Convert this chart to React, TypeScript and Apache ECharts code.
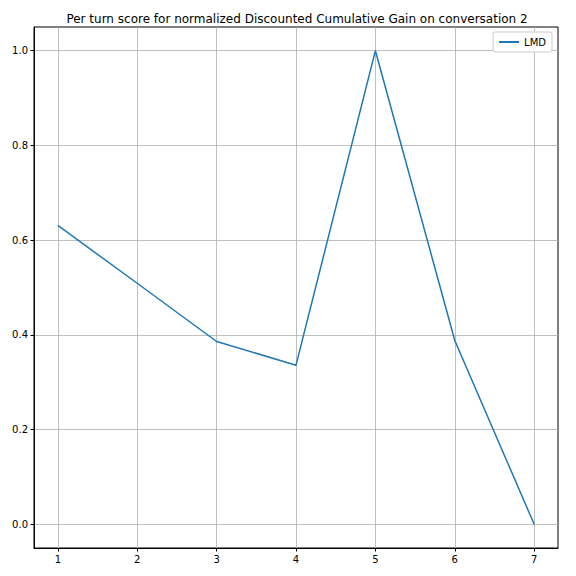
import React, { useEffect, useRef } from "react";
import * as echarts from "echarts";

const turns = [1, 2, 3, 4, 5, 6, 7];
const lmdScores = [0.631, 0.509, 0.386, 0.336, 1.0, 0.388, 0.0];
const xTicks = [1, 2, 3, 4, 5, 6, 7];
const yTicks = [0, 0.2, 0.4, 0.6, 0.8, 1.0];
const titleText = "Per turn score for normalized Discounted Cumulative Gain on conversation 2";
const seriesName = "LMD";

export default function App() {
  const ref = useRef<HTMLDivElement>(null);
  useEffect(() => {
    if (!ref.current) return;
    const chart = echarts.init(ref.current, undefined, { renderer: "svg" });
    const font = "DejaVu Sans";
    chart.setOption({
      animation: false,
      backgroundColor: "#ffffff",
      textStyle: { fontFamily: font },
      title: {
        text: titleText,
        left: 292,
        top: 8,
        textAlign: "center",
        textStyle: { fontFamily: font, fontSize: 12, fontWeight: "normal", color: "#000" },
      },
      legend: {
        right: 24,
        top: 32,
        orient: "vertical",
        itemWidth: 20,
        itemHeight: 2,
        icon: "rect",
        itemGap: 4,
        padding: [5, 6, 5, 6],
        borderColor: "#cccccc",
        borderWidth: 1,
        borderRadius: 2,
        backgroundColor: "#ffffff",
        textStyle: { fontFamily: font, fontSize: 10, color: "#000" },
        data: [seriesName],
      },
      grid: {
        left: 34,
        right: 18,
        top: 27,
        bottom: 28,
        show: true,
        borderColor: "#000",
        borderWidth: 1,
        containLabel: false,
      },
      xAxis: {
        type: "value",
        min: 0.7,
        max: 7.3,
        axisLine: { show: true, onZero: false, lineStyle: { color: "#000", width: 1 } },
        axisTick: { show: true, customValues: xTicks, length: 3.5, lineStyle: { color: "#000" } },
        axisLabel: {
          customValues: xTicks,
          color: "#000",
          fontSize: 10,
          fontFamily: font,
          margin: 6,
          formatter: (v: number) => String(v),
        },
        splitLine: { show: true, lineStyle: { color: "#b0b0b0", width: 0.8 } },
      },
      yAxis: {
        type: "value",
        min: -0.05,
        max: 1.05,
        axisLine: { show: true, onZero: false, lineStyle: { color: "#000", width: 1 } },
        axisTick: { show: true, customValues: yTicks, length: 3.5, lineStyle: { color: "#000" } },
        axisLabel: {
          customValues: yTicks,
          color: "#000",
          fontSize: 10,
          fontFamily: font,
          margin: 6,
          formatter: (v: number) => v.toFixed(1),
        },
        splitLine: { show: true, lineStyle: { color: "#b0b0b0", width: 0.8 } },
      },
      series: [
        {
          name: seriesName,
          type: "line",
          data: turns.map((t, i) => [t, lmdScores[i]]),
          showSymbol: false,
          symbol: "none",
          lineStyle: { color: "#1f77b4", width: 1.5 },
          itemStyle: { color: "#1f77b4" },
        },
      ],
    });
    return () => chart.dispose();
  }, []);
  return (
    <div
      ref={ref}
      style={{ position: "fixed", left: 0, top: 0, width: 576, height: 576 }}
    />
  );
}
